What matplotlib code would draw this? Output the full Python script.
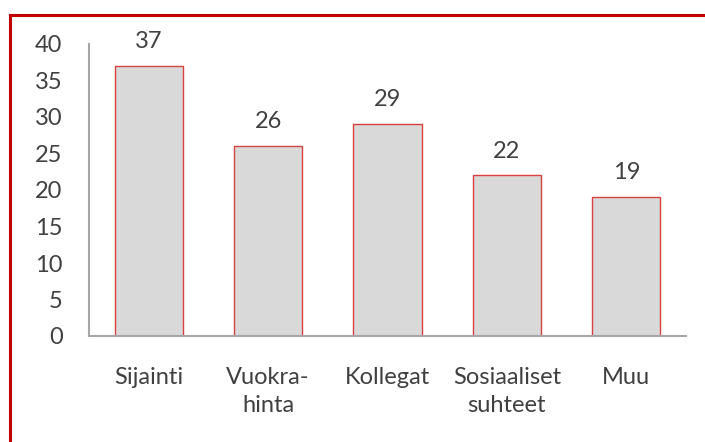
import matplotlib
matplotlib.use("Agg")
import matplotlib.pyplot as plt
from matplotlib.lines import Line2D

categories = ["Sijainti", "Vuokra-\nhinta", "Kollegat", "Sosiaaliset\nsuhteet", "Muu"]
values = [37, 26, 29, 22, 19]
yticks = [0, 5, 10, 15, 20, 25, 30, 35, 40]

plt.rcParams['font.family'] = ['Lato', 'DejaVu Sans']
text_color = '#404040'
fs = 17

fig = plt.figure(figsize=(7.05, 4.42), dpi=100)
ax = fig.add_axes([89/705, 1-336/442, (686-89)/705, (336-44)/442])

x = list(range(len(categories)))
bars = ax.bar(x, values, width=0.57, color='#D9D9D9', edgecolor='#D94040', linewidth=1.0)
for xi, v in zip(x, values):
    ax.annotate(str(v), (xi, v), xytext=(0, 10), textcoords='offset points',
                ha='center', va='bottom', fontsize=fs, color=text_color)

ax.set_xlim(-0.5, len(categories) - 0.5)
ax.set_ylim(0, 40)
ax.set_yticks(yticks)
ax.set_xticks(x)
ax.set_xticklabels(categories, fontsize=fs, color=text_color, linespacing=1.45)
ax.tick_params(axis='y', length=0, pad=19, labelsize=fs, labelcolor=text_color)
ax.tick_params(axis='x', length=0, pad=22)
for s in ['top', 'right']:
    ax.spines[s].set_visible(False)
for s in ['left', 'bottom']:
    ax.spines[s].set_color('#A6A6A6')
    ax.spines[s].set_linewidth(1.5)

# red frame (top and left)
fx = 9.5/705
fy = 1 - 14.5/442
fig.add_artist(Line2D([fx, 1], [fy, fy], transform=fig.transFigure, color='#C00000', linewidth=2.2))
fig.add_artist(Line2D([fx, fx], [0, fy], transform=fig.transFigure, color='#C00000', linewidth=2.2))

fig.savefig('out.png', dpi=100)
